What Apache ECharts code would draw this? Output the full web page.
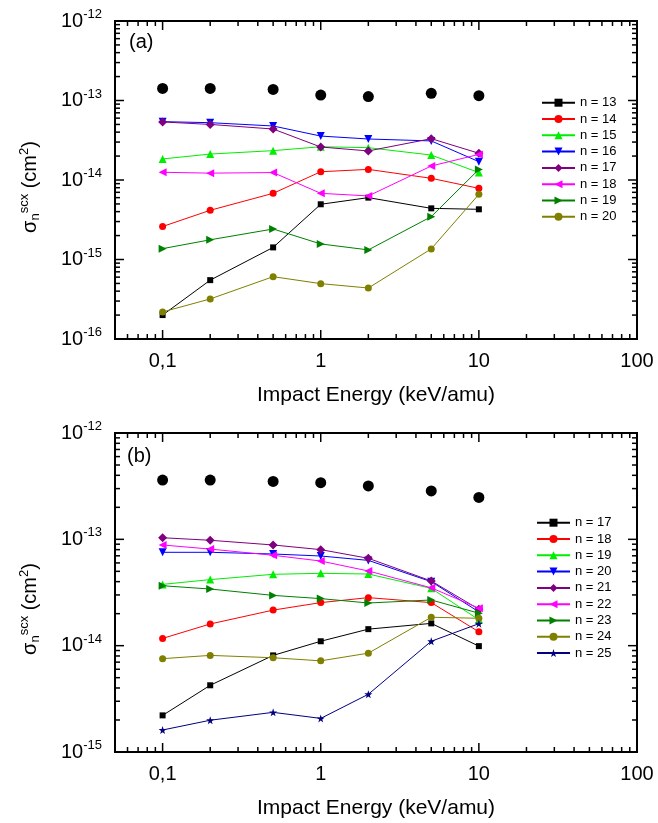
<!DOCTYPE html>
<html>
<head>
<meta charset="utf-8">
<script src="https://cdn.jsdelivr.net/npm/echarts@6/dist/echarts.min.js"></script>
<style>
html,body{margin:0;padding:0;background:#fff;}
#chart{width:658px;height:823px;}
</style>
</head>
<body>
<div id="chart"></div>
<script>
// ---------- data ----------
const xValues = [0.1, 0.2, 0.5, 1, 2, 5, 10];
const xTickValues = [0.1, 1, 10, 100];
const xTickLabels = ['0,1', '1', '10', '100'];
const xMinorTicks = [0.06, 0.07, 0.08, 0.09, 0.2, 0.3, 0.4, 0.5, 0.6, 0.7, 0.8, 0.9,
                     2, 3, 4, 5, 6, 7, 8, 9, 20, 30, 40, 50, 60, 70, 80, 90];
const yTickExpA = [-16, -15, -14, -13, -12];
const yTickExpB = [-15, -14, -13, -12];
const yMinorMultipliers = [2, 3, 4, 5, 6, 7, 8, 9];

// panel (a)
const totalA = [1.42e-13, 1.42e-13, 1.38e-13, 1.17e-13, 1.12e-13, 1.23e-13, 1.15e-13];
const a_n13 = [2.0e-16, 5.5e-16, 1.42e-15, 4.95e-15, 6.0e-15, 4.4e-15, 4.28e-15];
const a_n14 = [2.6e-15, 4.16e-15, 6.8e-15, 1.27e-14, 1.36e-14, 1.05e-14, 7.85e-15];
const a_n15 = [1.84e-14, 2.12e-14, 2.34e-14, 2.62e-14, 2.55e-14, 2.06e-14, 1.24e-14];
const a_n16 = [5.42e-14, 5.26e-14, 4.78e-14, 3.57e-14, 3.28e-14, 3.1e-14, 1.7e-14];
const a_n17 = [5.37e-14, 5.0e-14, 4.38e-14, 2.6e-14, 2.32e-14, 3.31e-14, 2.17e-14];
const a_n18 = [1.25e-14, 1.22e-14, 1.24e-14, 6.8e-15, 6.3e-15, 1.5e-14, 2.1e-14];
const a_n19 = [1.37e-15, 1.77e-15, 2.42e-15, 1.57e-15, 1.32e-15, 3.46e-15, 1.36e-14];
const a_n20 = [2.19e-16, 3.19e-16, 6.08e-16, 4.97e-16, 4.38e-16, 1.36e-15, 6.6e-15];

// panel (b)
const totalB = [3.61e-13, 3.61e-13, 3.5e-13, 3.41e-13, 3.18e-13, 2.85e-13, 2.48e-13];
const b_n17 = [2.21e-15, 4.24e-15, 8.1e-15, 1.1e-14, 1.43e-14, 1.62e-14, 9.9e-15];
const b_n18 = [1.17e-14, 1.6e-14, 2.16e-14, 2.54e-14, 2.83e-14, 2.54e-14, 1.35e-14];
const b_n19 = [3.77e-14, 4.18e-14, 4.69e-14, 4.79e-14, 4.72e-14, 3.46e-14, 1.75e-14];
const b_n20 = [7.55e-14, 7.55e-14, 7.28e-14, 6.97e-14, 6.34e-14, 4.0e-14, 2.08e-14];
const b_n21 = [1.035e-13, 9.8e-14, 8.85e-14, 8.0e-14, 6.63e-14, 4.06e-14, 2.2e-14];
const b_n22 = [8.85e-14, 8.1e-14, 7.08e-14, 6.25e-14, 5.04e-14, 3.5e-14, 2.25e-14];
const b_n23 = [3.66e-14, 3.41e-14, 2.97e-14, 2.77e-14, 2.52e-14, 2.69e-14, 2.02e-14];
const b_n24 = [7.55e-15, 8.1e-15, 7.7e-15, 7.2e-15, 8.5e-15, 1.85e-14, 1.81e-14];
const b_n25 = [1.61e-15, 1.99e-15, 2.36e-15, 2.07e-15, 3.49e-15, 1.1e-14, 1.61e-14];

const namesA = ['n = 13', 'n = 14', 'n = 15', 'n = 16', 'n = 17', 'n = 18', 'n = 19', 'n = 20'];
const namesB = ['n = 17', 'n = 18', 'n = 19', 'n = 20', 'n = 21', 'n = 22', 'n = 23', 'n = 24', 'n = 25'];

// ---------- styling ----------
const FONT = 'Liberation Sans, Arial, Helvetica, sans-serif';
const STAR = 'path://M50,0 L61.8,35.1 L98.1,35.1 L68.8,56.7 L79.4,91 L50,70 L20.6,91 L31.2,56.7 L1.9,35.1 L38.2,35.1 Z';
const sty = {
  sq: {symbol: 'rect', size: 6, rot: 0},
  ci: {symbol: 'circle', size: 7, rot: 0},
  up: {symbol: 'triangle', size: 8, rot: 0},
  dn: {symbol: 'triangle', size: 8, rot: 180},
  di: {symbol: 'diamond', size: 9, rot: 0},
  lt: {symbol: 'triangle', size: 8, rot: 90},
  rt: {symbol: 'triangle', size: 8, rot: -90},
  st: {symbol: STAR, size: 8, rot: 0}
};
const TICK_LEN = [9, 5];   // major, minor
const X_MIN = 0.05, X_MAX = 100;

const grids = [
  {left: 115, top: 21, width: 522, height: 318, show: true, borderColor: '#000', borderWidth: 2, backgroundColor: 'transparent'},
  {left: 115, top: 433, width: 522, height: 319, show: true, borderColor: '#000', borderWidth: 2, backgroundColor: 'transparent'}
];

const LOGMIN = Math.log10(X_MIN);
const xAxes = [], yAxes = [];
function addAxes(gi, yLo, yHi, yExp) {
  const base = xAxes.length;
  // data axes (log)
  xAxes.push({type: 'log', logBase: 10, gridIndex: gi, min: X_MIN, max: X_MAX, show: false});
  yAxes.push({type: 'log', logBase: 10, gridIndex: gi, min: Math.pow(10, yLo), max: Math.pow(10, yHi), show: false});
  // label axes (same mapping, in log10 units)
  xAxes.push({type: 'value', gridIndex: gi, position: 'bottom', min: LOGMIN, max: 2,
    axisLine: {show: false, onZero: false}, axisTick: {show: false}, splitLine: {show: false},
    axisLabel: {show: true, customValues: xTickValues.map(Math.log10), margin: 12, fontSize: 20, color: '#000', fontFamily: FONT,
      formatter: v => { let best = 0; xTickValues.forEach((t, i) => { if (Math.abs(Math.log10(t) - v) < Math.abs(Math.log10(xTickValues[best]) - v)) best = i; }); return xTickLabels[best]; }},
    name: 'Impact Energy (keV/amu)', nameLocation: 'middle', nameGap: 46,
    nameTextStyle: {fontSize: 21, color: '#000', fontFamily: FONT}
  });
  yAxes.push({type: 'value', gridIndex: gi, position: 'left', min: yLo, max: yHi,
    axisLine: {show: false, onZero: false}, axisTick: {show: false}, splitLine: {show: false},
    axisLabel: {show: true, customValues: yExp, margin: 13, color: '#000', fontFamily: FONT,
      formatter: v => '{b|10}{s|' + Math.round(v) + '}',
      rich: {b: {fontSize: 20, lineHeight: 26, fontFamily: FONT, color: '#000'},
             s: {fontSize: 13, lineHeight: 14, verticalAlign: 'top', fontFamily: FONT, color: '#000'}}}
  });
  return base;
}
const axA = addAxes(0, -16, -12, yTickExpA);
const axB = addAxes(1, -15, -12, yTickExpB);

const series = [];
function addLine(prefix, name, values, color, st, ax) {
  series.push({
    type: 'line', name: prefix + name, xAxisIndex: ax, yAxisIndex: ax,
    data: xValues.map((x, i) => [x, values[i]]),
    symbol: st.symbol, symbolSize: st.size, symbolRotate: st.rot, showAllSymbol: true,
    itemStyle: {color: color, opacity: 1}, lineStyle: {color: color, width: 1},
    emphasis: {disabled: true}, animation: false, z: 2
  });
}
function addTotal(name, values, ax) {
  series.push({
    type: 'scatter', name: name, xAxisIndex: ax, yAxisIndex: ax,
    data: xValues.map((x, i) => [x, values[i]]),
    symbol: 'circle', symbolSize: 11, itemStyle: {color: '#000', opacity: 1},
    emphasis: {disabled: true}, animation: false, z: 3
  });
}
// tick marks on all four sides, placed through the log axes
function addTicks(ax, yExp) {
  const yMin = Math.pow(10, yExp[0]), yMax = Math.pow(10, yExp[yExp.length - 1]);
  const data = [];
  xTickValues.forEach(v => data.push([v, 1e-14, 0, 0]));
  xMinorTicks.forEach(v => data.push([v, 1e-14, 1, 0]));
  yExp.forEach(e => data.push([1, Math.pow(10, e), 0, 1]));
  for (let e = yExp[0]; e < yExp[yExp.length - 1]; e++) {
    yMinorMultipliers.forEach(k => data.push([1, k * Math.pow(10, e), 1, 1]));
  }
  series.push({
    type: 'custom', xAxisIndex: ax, yAxisIndex: ax, data: data,
    dimensions: ['x', 'y', 'kind', 'side'],
    encode: {x: 0, y: 1}, silent: true, animation: false, z: 1, clip: false,
    renderItem: function (params, api) {
      const p = api.coord([api.value(0), api.value(1)]);
      const len = TICK_LEN[api.value(2)];
      const left = api.coord([X_MIN, 1e-14])[0];
      const right = api.coord([X_MAX, 1e-14])[0];
      const bottom = api.coord([1, yMin])[1];
      const top = api.coord([1, yMax])[1];
      if (api.value(3) === 0) {
        const x = p[0];
        return {type: 'group', children: [
          {type: 'line', shape: {x1: x, y1: bottom, x2: x, y2: bottom - len}, style: {stroke: '#000', lineWidth: 1.5}},
          {type: 'line', shape: {x1: x, y1: top, x2: x, y2: top + len}, style: {stroke: '#000', lineWidth: 1.5}}
        ]};
      }
      const y = p[1];
      return {type: 'group', children: [
        {type: 'line', shape: {x1: left, y1: y, x2: left + len, y2: y}, style: {stroke: '#000', lineWidth: 1.5}},
        {type: 'line', shape: {x1: right, y1: y, x2: right - len, y2: y}, style: {stroke: '#000', lineWidth: 1.5}}
      ]};
    }
  });
}

addTicks(axA, yTickExpA);
addTicks(axB, yTickExpB);

addTotal('totalA', totalA, axA);
const serA = [a_n13, a_n14, a_n15, a_n16, a_n17, a_n18, a_n19, a_n20];
const colA = ['#000000', '#ff0000', '#00ee00', '#0000ff', '#800080', '#ff00ff', '#008000', '#808000'];
const stA = [sty.sq, sty.ci, sty.up, sty.dn, sty.di, sty.lt, sty.rt, sty.ci];
namesA.forEach((n, i) => addLine('A|', n, serA[i], colA[i], stA[i], axA));

addTotal('totalB', totalB, axB);
const serB = [b_n17, b_n18, b_n19, b_n20, b_n21, b_n22, b_n23, b_n24, b_n25];
const colB = ['#000000', '#ff0000', '#00ee00', '#0000ff', '#800080', '#ff00ff', '#008000', '#808000', '#000080'];
const stB = [sty.sq, sty.ci, sty.up, sty.dn, sty.di, sty.lt, sty.rt, sty.ci, sty.st];
namesB.forEach((n, i) => addLine('B|', n, serB[i], colB[i], stB[i], axB));

const legendCommon = {
  orient: 'vertical', itemWidth: 33, itemHeight: 10, itemGap: 3.3, padding: 0,
  textStyle: {fontSize: 13, color: '#000', fontFamily: FONT},
  formatter: n => n.slice(2), selectedMode: false
};

const ytitleRich = {
  m: {fontSize: 20, lineHeight: 24, fontFamily: FONT, color: '#000'},
  sub: {fontSize: 13, lineHeight: 13, verticalAlign: 'bottom', fontFamily: FONT, color: '#000'},
  sup: {fontSize: 13, lineHeight: 13, verticalAlign: 'top', fontFamily: FONT, color: '#000'}
};
const ytitleText = '{m|σ}{sub|n}{sup|scx}{m| (cm}{sup|2}{m|)}';

const option = {
  backgroundColor: '#fff',
  animation: false,
  grid: grids,
  xAxis: xAxes,
  yAxis: yAxes,
  series: series,
  legend: [
    Object.assign({}, legendCommon, {left: 541, top: 96.2, data: namesA.map(n => 'A|' + n)}),
    Object.assign({}, legendCommon, {left: 536, top: 516.2, data: namesB.map(n => 'B|' + n)})
  ],
  graphic: [
    {type: 'text', x: 129, y: 42.5, style: {text: '(a)', fontSize: 20, fontFamily: FONT, fill: '#000', verticalAlign: 'middle'}},
    {type: 'text', x: 127, y: 456.5, style: {text: '(b)', fontSize: 20, fontFamily: FONT, fill: '#000', verticalAlign: 'middle'}},
    {type: 'text', x: 30, y: 187, rotation: Math.PI / 2,
      style: {text: ytitleText, rich: ytitleRich, align: 'center', verticalAlign: 'middle', fill: '#000'}},
    {type: 'text', x: 30, y: 609, rotation: Math.PI / 2,
      style: {text: ytitleText, rich: ytitleRich, align: 'center', verticalAlign: 'middle', fill: '#000'}}
  ]
};

const chart = echarts.init(document.getElementById('chart'), null, {renderer: 'canvas'});
chart.setOption(option);
</script>
</body>
</html>
